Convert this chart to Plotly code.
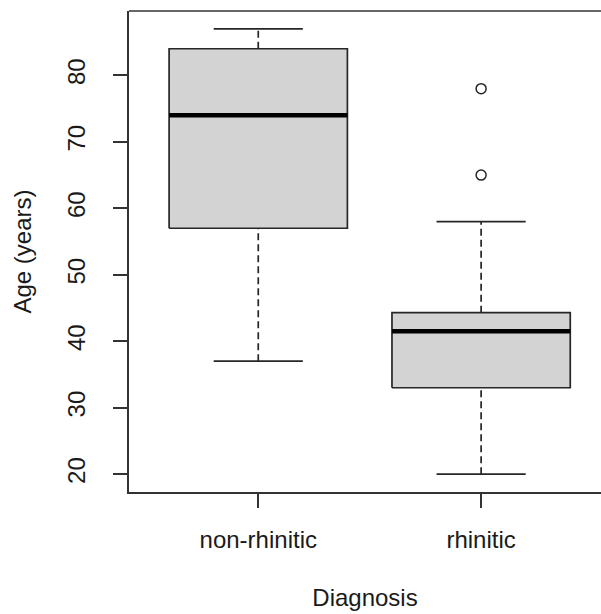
import plotly.graph_objects as go

categories = ["non-rhinitic", "rhinitic"]
lower_whisker = [37, 20]
q1 = [57, 33]
median = [74, 41.5]
q3 = [84, 44.3]
upper_whisker = [87, 58]
outliers = [[], [65, 78]]
y_ticks = [20, 30, 40, 50, 60, 70, 80]

BOX_HALF = 0.4
CAP_HALF = 0.2
LINE = "#262626"
FONT = "Liberation Sans, Arial, sans-serif"

fig = go.Figure()
for i, cat in enumerate(categories):
    x = i + 1
    # dashed whiskers
    for a, b in ((q3[i], upper_whisker[i]), (lower_whisker[i], q1[i])):
        fig.add_trace(go.Scatter(x=[x, x], y=[a, b], mode="lines",
                                 line=dict(color=LINE, width=1.7, dash="7px,4px"),
                                 showlegend=False, hoverinfo="skip"))
    # caps
    for v in (upper_whisker[i], lower_whisker[i]):
        fig.add_trace(go.Scatter(x=[x - CAP_HALF, x + CAP_HALF], y=[v, v], mode="lines",
                                 line=dict(color=LINE, width=1.7),
                                 showlegend=False, hoverinfo="skip"))
    # box
    fig.add_trace(go.Scatter(
        x=[x - BOX_HALF, x + BOX_HALF, x + BOX_HALF, x - BOX_HALF, x - BOX_HALF],
        y=[q1[i], q1[i], q3[i], q3[i], q1[i]],
        mode="lines", fill="toself", fillcolor="#D3D3D3",
        line=dict(color=LINE, width=1.7), name=cat, showlegend=False))
    # median
    fig.add_trace(go.Scatter(x=[x - BOX_HALF, x + BOX_HALF], y=[median[i], median[i]],
                             mode="lines", line=dict(color="black", width=4.5),
                             showlegend=False, hoverinfo="skip"))
    if outliers[i]:
        fig.add_trace(go.Scatter(x=[x] * len(outliers[i]), y=outliers[i], mode="markers",
                                 marker=dict(symbol="circle-open", size=10,
                                             color=LINE, line=dict(width=1.5)),
                                 showlegend=False))

W, H = 601, 614
left, top, bottom = 128.7, 11, 122
plot_w = W - left
px_per_unit = 223
x0 = 0.42
x1 = x0 + plot_w / px_per_unit

fig.update_layout(
    width=W, height=H,
    margin=dict(l=left, r=0, t=top, b=bottom, autoexpand=False),
    plot_bgcolor="white", paper_bgcolor="white",
    font=dict(family=FONT, size=24, color="#1a1a1a"),
    xaxis=dict(range=[x0, x1], tickvals=[1, 2], ticktext=categories,
               showgrid=False, zeroline=False, showline=True, linecolor="#333",
               linewidth=1.5, ticks="outside", ticklen=14,
               tickcolor="#333", tickwidth=1.5, ticklabelstandoff=11,
               title=dict(text="Diagnosis", standoff=38, font=dict(size=24))),
    yaxis=dict(range=[17.32, 89.68], tickvals=y_ticks, tickangle=-90,
               showgrid=False, zeroline=False, showline=True, linecolor="#333",
               linewidth=1.5, ticks="outside", ticklen=14, tickcolor="#333",
               tickwidth=1.5, ticklabelstandoff=19,
               title=dict(text="Age (years)", standoff=24, font=dict(size=24))),
    shapes=[dict(type="line", xref="paper", yref="paper", x0=0, x1=1, y0=1, y1=1,
                 line=dict(color="#333", width=1.5))],
)

fig.write_html("out.html",
               config={"displayModeBar": False},
               post_script="document.body.style.margin='0px';"
                           "document.body.style.overflow='hidden';")
